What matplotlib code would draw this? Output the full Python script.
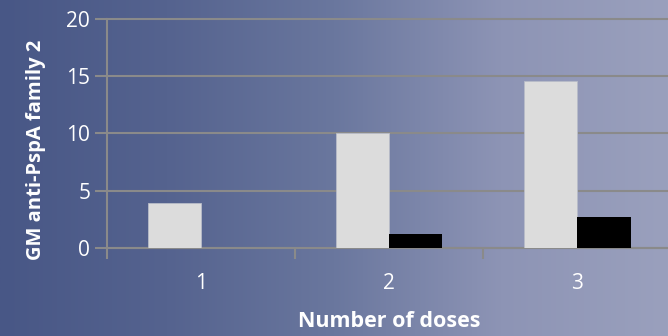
import numpy as np
import matplotlib
matplotlib.use("Agg")
import matplotlib.pyplot as plt
from matplotlib.colors import LinearSegmentedColormap

# data
doses = ["1", "2", "3"]
series_light = [3.9, 10.0, 14.6]
series_black = [0.0, 1.2, 2.7]
y_ticks = [0, 5, 10, 15, 20]

plt.rcParams['font.family'] = ['Open Sans', 'DejaVu Sans']

fig = plt.figure(figsize=(6.68, 3.36), dpi=100)

# slide-like horizontal gradient behind everything
bg = fig.add_axes([0, 0, 1, 1], zorder=0)
grad_cmap = LinearSegmentedColormap.from_list(
    "bg", ["#485786", "#55638f", "#6a779e", "#8d94b5", "#9aa0bd"])
bg.imshow(np.linspace(0, 1, 256).reshape(1, -1), aspect="auto",
          cmap=grad_cmap, extent=[0, 1, 0, 1])
bg.axis("off")

ax = fig.add_axes([0.160, 0.262, 0.845, 0.682], zorder=1)
ax.patch.set_alpha(0)

x = np.arange(len(doses)) + 1
w = 0.283
ax.bar(x - w / 2, series_light, w, color="#dcdcdc", edgecolor="#b8bcc8",
       linewidth=0.6, zorder=3)
ax.bar(x + w / 2, series_black, w, color="#000000", zorder=3)

ax.set_xlim(0.5, 3.5)
ax.set_ylim(0, 20)
ax.set_yticks(y_ticks)
ax.yaxis.grid(True, color="#8a8a8a", linewidth=1.5, zorder=1)
for gl in ax.get_ygridlines():
    gl.set_clip_on(False)

ax.set_xticks([0.5, 1.5, 2.5, 3.5])
ax.set_xticklabels([])
ax.set_xticks(x, minor=True)
ax.set_xticklabels(doses, minor=True)
ax.tick_params(axis="x", which="major", length=8, width=1.5, color="#8a8a8a")
ax.tick_params(axis="x", which="minor", length=0, pad=18,
               labelsize=15, labelcolor="white")
ax.tick_params(axis="y", length=9, width=1.5, color="#8a8a8a",
               labelsize=15, labelcolor="white", pad=3)

for s in ["top", "right"]:
    ax.spines[s].set_visible(False)
ax.spines["left"].set_color("#8a8a8a")
ax.spines["left"].set_linewidth(1.5)
ax.spines["bottom"].set_color("#8a8a8a")
ax.spines["bottom"].set_linewidth(1.5)

ax.set_xlabel("Number of doses", fontsize=15.5, fontweight="bold",
              color="white", labelpad=12)
ax.set_ylabel("GM anti-PspA family 2", fontsize=14.5, fontweight="bold",
              color="white")
ax.yaxis.set_label_coords(-0.108, 0.43)

fig.savefig("out.png", dpi=100)
